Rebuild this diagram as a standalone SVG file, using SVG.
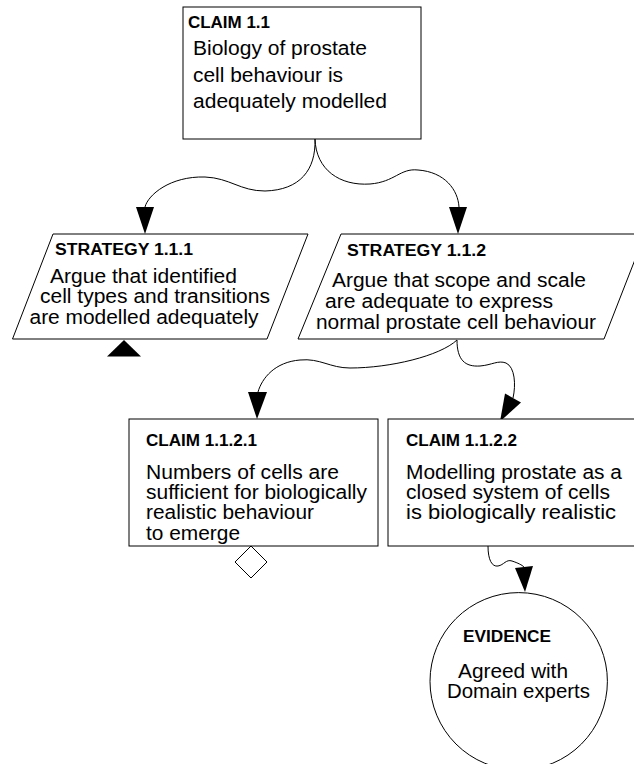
<svg xmlns="http://www.w3.org/2000/svg" width="634" height="764" viewBox="0 0 634 764">
<style>
.box{fill:#fff;stroke:#000;stroke-width:1}
.t{font-family:"Liberation Sans",Arial,sans-serif;font-size:16px;font-weight:bold;fill:#000}
.b{font-family:"Liberation Sans",Arial,sans-serif;font-size:20px;fill:#000}
.c{fill:none;stroke:#000;stroke-width:1}
.ah{fill:#000;stroke:none}
</style>
<rect width="634" height="764" fill="#fff"/>
<g id="connectors">
<path class="c" d="M315,139 C316,170 300,190 265,191 C240,191 230,178 205,177 C170,176 148,195 145,207"/>
<polygon class="ah" points="136,207 154,207 145,234"/>
<path class="c" d="M315,139 C316,170 340,186 370,184 C395,182 400,168 418,170 C445,172 458,190 459,207"/>
<polygon class="ah" points="449,207 467,207 458,234"/>
<path class="c" d="M457,340 C440,356 390,368 350,368 C330,368 320,358 300,360 C275,362 262,378 258,392"/>
<polygon class="ah" points="248,392 267,392 257,419"/>
<path class="c" d="M457,340 C457,360 465,367 480,366 C492,365 498,360 506,363 C515,367 516,385 513,398"/>
<polygon class="ah" points="505,393.6 521,402.4 500,421.5"/>
<path class="c" d="M488,546 C488,560 492,567 498,566 C504,565 506,559 512,561 C518,563 522,565 524,567"/>
<polygon class="ah" points="515,568 533,566 525,592"/>
</g>
<g id="claim-1-1">
<rect class="box" x="183" y="7" width="238" height="132"/>
<text class="t" x="188" y="27.5" textLength="82" lengthAdjust="spacingAndGlyphs">CLAIM 1.1</text>
<text class="b" x="193" y="55" textLength="174" lengthAdjust="spacingAndGlyphs">Biology of prostate</text>
<text class="b" x="193" y="81.7" textLength="150" lengthAdjust="spacingAndGlyphs">cell behaviour is</text>
<text class="b" x="193" y="108.3" textLength="194" lengthAdjust="spacingAndGlyphs">adequately modelled</text>
</g>
<g id="strategy-1-1-1">
<polygon class="box" points="53,234 308,234 267,339 12.5,339"/>
<text class="t" x="55" y="255" textLength="138" lengthAdjust="spacingAndGlyphs">STRATEGY 1.1.1</text>
<text class="b" x="50" y="283" textLength="187" lengthAdjust="spacingAndGlyphs">Argue that identified</text>
<text class="b" x="40" y="303" textLength="230" lengthAdjust="spacingAndGlyphs">cell types and transitions</text>
<text class="b" x="29.5" y="323.5" textLength="229" lengthAdjust="spacingAndGlyphs">are modelled adequately</text>
<polygon class="ah" points="107,356.5 141,356.5 124,340"/>
</g>
<g id="strategy-1-1-2">
<polygon class="box" points="341,234 645,234 604,339 298,339"/>
<text class="t" x="347" y="256" textLength="139" lengthAdjust="spacingAndGlyphs">STRATEGY 1.1.2</text>
<text class="b" x="332" y="287" textLength="254" lengthAdjust="spacingAndGlyphs">Argue that scope and scale</text>
<text class="b" x="325" y="308" textLength="228" lengthAdjust="spacingAndGlyphs">are adequate to express</text>
<text class="b" x="316" y="329" textLength="280" lengthAdjust="spacingAndGlyphs">normal prostate cell behaviour</text>
</g>
<g id="claim-1-1-2-1">
<rect class="box" x="129" y="419" width="249" height="127"/>
<text class="t" x="146" y="446" textLength="111" lengthAdjust="spacingAndGlyphs">CLAIM 1.1.2.1</text>
<text class="b" x="146" y="478.5" textLength="193" lengthAdjust="spacingAndGlyphs">Numbers of cells are</text>
<text class="b" x="146" y="498.5" textLength="221" lengthAdjust="spacingAndGlyphs">sufficient for biologically</text>
<text class="b" x="146" y="519.3" textLength="168" lengthAdjust="spacingAndGlyphs">realistic behaviour</text>
<text class="b" x="146" y="540" textLength="94" lengthAdjust="spacingAndGlyphs">to emerge</text>
<polygon class="box" points="251,546 267,562 251,578 235,562"/>
</g>
<g id="claim-1-1-2-2">
<rect class="box" x="388" y="419" width="260" height="127"/>
<text class="t" x="406" y="446" textLength="111" lengthAdjust="spacingAndGlyphs">CLAIM 1.1.2.2</text>
<text class="b" x="406" y="478.5" textLength="216" lengthAdjust="spacingAndGlyphs">Modelling prostate as a</text>
<text class="b" x="406" y="498.5" textLength="204" lengthAdjust="spacingAndGlyphs">closed system of cells</text>
<text class="b" x="406" y="518.5" textLength="210" lengthAdjust="spacingAndGlyphs">is biologically realistic</text>
</g>
<g id="evidence">
<circle class="box" cx="518.7" cy="681.3" r="88.7"/>
<text class="t" x="463" y="641.7" textLength="88" lengthAdjust="spacingAndGlyphs">EVIDENCE</text>
<text class="b" x="458" y="678.3" textLength="110" lengthAdjust="spacingAndGlyphs">Agreed with</text>
<text class="b" x="447" y="698.3" textLength="143" lengthAdjust="spacingAndGlyphs">Domain experts</text>
</g>
</svg>
